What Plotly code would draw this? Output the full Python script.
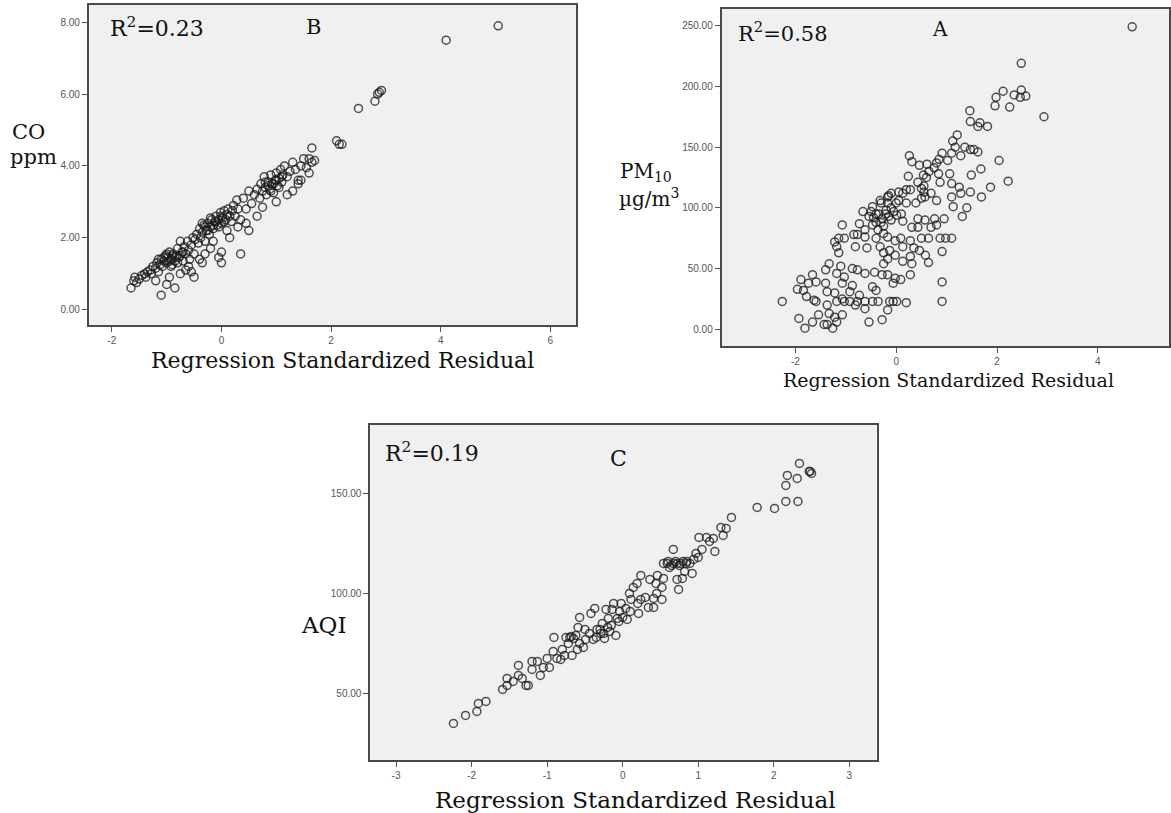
import plotly.graph_objects as go

# ---------------- data ----------------
# Panel B : CO (ppm) vs regression standardized residual
co_resid = [-1.65,-1.60,-1.58,-1.55,-1.50,-1.45,-1.40,-1.38,-1.35,-1.30,-1.28,-1.25,-1.20,-1.18,-1.15,-1.12,-1.10,-1.08,-1.05,-1.02,
            -1.00,-0.98,-0.95,-0.92,-0.90,-0.88,-0.85,-0.82,-0.80,-0.78,-0.75,-0.72,-0.70,-0.68,-0.65,-0.62,-0.60,-0.58,-0.55,-0.52,
            -0.50,-0.48,-0.45,-0.42,-0.40,-0.38,-0.35,-0.32,-0.30,-0.28,-0.25,-0.22,-0.20,-0.18,-0.15,-0.12,-0.10,-0.08,-0.05,-0.02,
            0.00,0.02,0.05,0.08,0.10,0.12,0.15,0.18,0.20,0.22,0.25,0.28,0.30,0.35,0.40,0.45,0.50,0.55,0.60,0.65,
            0.70,0.72,0.75,0.78,0.80,0.82,0.85,0.88,0.90,0.92,0.95,0.98,1.00,1.02,1.05,1.08,1.10,1.12,1.15,1.20,
            1.25,1.30,1.35,1.40,1.45,1.50,1.55,1.60,1.65,1.70,
            -1.05,-0.95,-0.90,-0.85,-0.80,-1.00,-0.92,-0.75,-1.15,-0.70,-0.30,-0.25,-0.15,-0.10,-0.05,0.05,-0.20,0.00,-0.35,0.85,
            0.90,0.95,1.00,0.80,1.05,1.10,
            -1.10,-0.85,-1.20,-1.00,-0.95,-0.75,-0.65,-0.50,-0.55,-0.60,-0.40,-0.35,-0.30,-0.20,-0.15,0.00,-0.05,0.00,0.35,0.50,
            0.45,0.30,0.15,0.10,0.75,1.00,0.65,1.40,1.45,1.60,1.30,1.20,
            1.65,2.10,2.15,2.20,2.50,2.80,2.85,2.88,2.92,4.10,5.05]
co_ppm = [0.60,0.80,0.90,0.75,0.85,0.95,1.00,0.90,1.05,1.10,1.00,1.20,1.15,1.30,1.05,1.25,1.40,1.20,1.35,1.50,
          1.30,1.45,1.60,1.40,1.25,1.55,1.35,1.50,1.70,1.45,1.90,1.60,1.35,1.75,1.55,1.90,1.65,1.40,1.80,2.00,
          1.55,1.95,2.10,1.85,2.25,2.00,2.15,2.35,1.90,2.20,2.40,2.10,2.30,2.50,2.25,2.45,2.60,2.35,2.50,2.70,
          2.40,2.55,2.75,2.50,2.65,2.80,2.60,2.45,2.75,2.90,2.60,3.05,2.80,2.50,3.10,2.80,3.30,2.95,3.20,3.35,
          3.10,3.50,3.30,3.70,3.40,3.20,3.55,3.35,3.75,3.50,3.25,3.60,3.80,3.45,3.65,3.90,3.55,3.75,4.00,3.70,
          3.85,4.10,3.90,3.60,4.00,4.20,3.95,4.20,4.10,4.15,
          1.45,1.35,1.50,1.45,1.30,1.55,1.20,1.50,1.40,1.60,2.30,2.20,2.35,2.45,2.30,2.45,2.55,2.60,2.40,3.45,
          3.30,3.50,3.60,3.55,3.40,3.70,
          0.40,0.60,0.80,0.70,0.90,1.00,1.10,0.90,1.05,1.20,1.40,1.30,1.55,1.70,1.90,1.30,1.45,1.60,1.55,2.20,
          2.40,2.30,2.00,2.20,2.85,3.00,2.60,3.50,3.60,3.80,3.30,3.20,
          4.50,4.70,4.60,4.60,5.60,5.80,6.00,6.05,6.10,7.50,7.90]

# Panel A : PM10 (ug/m3) vs regression standardized residual
pm_resid = [4.68,2.48,2.93,1.98,2.12,1.96,2.25,2.34,2.48,2.46,2.57,1.46,1.47,1.66,1.81,1.62,1.21,1.12,1.17,1.36,
            1.47,1.54,1.62,1.28,1.10,0.26,0.31,0.46,0.61,0.80,0.91,1.02,2.04,2.22,1.68,1.49,0.24,0.43,0.54,0.84,
            1.06,0.87,1.10,1.25,1.47,1.28,1.10,1.69,1.87,1.13,1.40,1.31,0.50,0.57,0.28,0.13,-0.17,-0.32,-0.47,-0.17,
            0.05,0.20,0.39,0.69,0.80,-0.66,-0.54,-0.40,-0.28,-0.21,-0.10,0.01,0.13,0.43,0.57,0.76,0.95,0.69,0.80,0.43,
            0.31,-1.07,-0.73,-0.62,-0.47,-0.36,-0.25,-0.84,-1.03,-1.14,-1.22,-0.77,-0.62,-0.40,-0.17,-0.02,0.09,0.28,0.50,0.64,
            0.87,0.98,1.10,-1.18,-0.81,-0.58,-0.32,-0.13,0.13,0.35,0.46,-1.14,-0.25,-0.02,0.28,0.91,0.58,0.31,0.13,0.64,
            -0.25,-0.17,-1.33,-1.10,-0.87,-0.77,-0.62,-0.43,-1.40,-1.18,-1.03,-1.66,-1.89,-1.74,-1.59,-0.28,-0.17,-0.02,0.09,-0.06,
            0.28,0.91,-1.07,-0.87,-0.47,-0.40,-1.96,-1.84,-1.78,-1.40,-1.37,-1.22,-0.92,-0.73,-1.07,-2.26,-1.63,-1.59,-1.18,-1.03,
            -0.92,-0.77,-0.62,-0.47,-0.36,-0.13,-0.06,0.01,0.20,0.91,-0.81,-0.62,-1.37,-1.33,-0.17,-1.93,-1.81,-1.66,-1.54,-1.43,
            -1.37,-1.26,-1.18,-1.07,-1.22,-0.54,-0.28,
            -0.35,-0.30,-0.45,-0.20,-0.10,-0.25,-0.40,-0.15,-0.05,0.00,-0.50,0.10,-0.15,-0.10,-0.30,0.05,0.20,0.55,0.60,0.50,
            0.65,0.75,0.85,0.55]
pm10 = [249,219,175,191,196,184,183,193,197,191,192,180,171,170,167,167,160,155,150,150,
        148,148,146,143,145,143,138,135,136,137,145,139,139,122,132,127,126,121,127,128,
        128,121,120,117,113,112,109,109,117,101,100,93,116,109,115,112,109,106,101,104,
        106,104,104,112,106,97,93,95,91,95,90,94,89,91,90,91,91,84,86,84,
        84,86,87,82,86,82,79,78,75,75,72,78,76,75,76,73,75,73,75,75,
        75,75,75,68,68,67,68,65,68,67,65,63,63,61,60,64,61,54,56,55,
        54,58,54,52,50,49,46,47,49,46,43,45,41,38,39,45,45,42,41,38,
        45,39,38,36,35,32,33,32,27,38,31,30,31,28,25,23,24,23,23,23,
        23,23,23,23,23,23,23,23,22,23,20,17,20,13,16,9,1,6,12,4,
        4,1,6,12,10,6,8,
        95,88,92,98,100,85,88,93,97,104,97,95,110,112,104,113,115,118,125,108,
        130,133,140,113]

# Panel C : AQI vs regression standardized residual
aqi_resid = [-2.24,-2.08,-1.93,-1.91,-1.81,-1.59,-1.53,-1.53,-1.45,-1.38,-1.38,-1.33,-1.28,-1.25,-1.20,-1.20,-1.13,-1.09,-1.05,-1.00,
             -0.97,-0.92,-0.91,-0.87,-0.82,-0.77,-0.75,-0.72,-0.70,-0.67,-0.65,-0.59,-0.57,-0.57,-0.52,-0.49,-0.44,-0.42,-0.39,-0.37,
             -0.34,-0.29,-0.27,-0.24,-0.22,-0.19,-0.17,-0.14,-0.12,-0.09,-0.07,-0.04,-0.02,0.04,0.06,0.09,0.11,0.14,0.19,0.21,
             0.24,0.24,0.34,0.36,0.41,0.41,0.44,0.46,0.52,0.52,0.54,0.54,0.59,0.62,0.67,0.67,0.72,0.72,0.74,0.77,
             0.79,0.82,0.84,0.89,0.92,0.94,0.97,1.01,1.05,1.11,1.15,1.20,1.22,1.30,1.33,1.37,1.44,1.78,2.01,2.16,
             2.32,2.16,2.18,2.31,2.34,2.48,2.50,2.47,
             -0.68,-0.62,-0.30,-0.25,-0.20,-0.35,-0.15,-0.60,-0.80,-0.50,0.60,0.65,0.70,0.75,0.80,0.85,1.00,0.00,0.10,-0.05,
             0.30,0.45,0.20]
aqi = [35,39,41,45,46,52,54,57.5,56,59,64,57.5,54,54,66,62,66,59,63,67.5,
       63,71,78,67.5,67,69,78,75,78,69,77.5,83,88,75,73,77,80,90,77,92.5,
       82,80,85,77.5,92,87.5,81,92,95,79,87.5,91,95,92.5,87,100,97,103,105,90,
       109,97,93,107,93,97.5,105,109,97,103,107.5,115,115,113,122,115,115,107,102,115,
       107.5,111,115,115,110,117,120,128,122,128,126,127.5,121,133,129,132.5,138,143,142.5,146,
       146,154,159,157.5,165,161,160,161,
       78.5,79,82,80,83,78,84,72,72,82,116,114,116,114,116,116,118,88,91,86,
       98,100,95]

# tick values / labels
co_ticks = [0, 2, 4, 6, 8]
co_ticktext = ["0.00", "2.00", "4.00", "6.00", "8.00"]
b_xticks = [-2, 0, 2, 4, 6]
b_xticktext = ["-2", "0", "2", "4", "6"]
pm_ticks = [0, 50, 100, 150, 200, 250]
pm_ticktext = ["0.00", "50.00", "100.00", "150.00", "200.00", "250.00"]
a_xticks = [-2, 0, 2, 4]
a_xticktext = ["-2", "0", "2", "4"]
aqi_ticks = [50, 100, 150]
aqi_ticktext = ["50.00", "100.00", "150.00"]
c_xticks = [-3, -2, -1, 0, 1, 2, 3]
c_xticktext = ["-3", "-2", "-1", "0", "1", "2", "3"]

# ---------------- figure ----------------
W, H = 1171, 813
marker = dict(symbol="circle-open", size=8, color="rgba(25,25,25,0.75)",
              line=dict(width=1.5, color="rgba(25,25,25,0.75)"))

fig = go.Figure()
fig.add_trace(go.Scatter(x=co_resid, y=co_ppm, mode="markers", marker=marker,
                         xaxis="x", yaxis="y", showlegend=False, hoverinfo="skip"))
fig.add_trace(go.Scatter(x=pm_resid, y=pm10, mode="markers", marker=marker,
                         xaxis="x2", yaxis="y2", showlegend=False, hoverinfo="skip"))
fig.add_trace(go.Scatter(x=aqi_resid, y=aqi, mode="markers", marker=marker,
                         xaxis="x3", yaxis="y3", showlegend=False, hoverinfo="skip"))

def px(x):
    return x / W

def py(y):
    return 1 - y / H

tickfont = dict(family="Liberation Sans Narrow, Liberation Sans, Arial", size=10, color="#555555")
common = dict(showgrid=False, zeroline=False, showline=True, mirror=True,
              linecolor="#4a4a4a", linewidth=2, ticks="outside", ticklen=5,
              tickcolor="#555555", tickwidth=1, tickfont=tickfont, tickmode="array")

fig.update_layout(
    width=W, height=H, autosize=False,
    margin=dict(l=0, r=0, t=0, b=0, pad=0),
    paper_bgcolor="white", plot_bgcolor="#f0f0f0",
    xaxis=dict(domain=[px(89), px(577)], range=[-2.42, 6.47], anchor="y",
               tickvals=b_xticks, ticktext=b_xticktext, **common),
    yaxis=dict(domain=[py(325), py(5)], range=[-0.43, 8.48], anchor="x",
               tickvals=co_ticks, ticktext=co_ticktext, **common),
    xaxis2=dict(domain=[px(723), 1.0], range=[-3.46, 5.41], anchor="y2",
                tickvals=a_xticks, ticktext=a_xticktext, **common),
    yaxis2=dict(domain=[py(346), py(9)], range=[-13.7, 263.7], anchor="x2",
                tickvals=pm_ticks, ticktext=pm_ticktext, **common),
    xaxis3=dict(domain=[px(371), px(878)], range=[-3.34, 3.36], anchor="y3",
                tickvals=c_xticks, ticktext=c_xticktext, **common),
    yaxis3=dict(domain=[py(760), py(425)], range=[16.7, 184.2], anchor="x3",
                tickvals=aqi_ticks, ticktext=aqi_ticktext, **common),
)

serif = "DejaVu Serif, Liberation Serif, serif"

def label(text, x, y, size, xanchor="center"):
    fig.add_annotation(text=text, x=px(x), y=py(y), xref="paper", yref="paper",
                       xanchor=xanchor, yanchor="middle", showarrow=False,
                       font=dict(family=serif, size=size, color="#111111"))

# in-panel labels
label("R<sup>2</sup>=0.23", 157, 27, 22)
label("B", 314, 27, 21)
label("R<sup>2</sup>=0.58", 784, 32, 21)
label("A", 942, 29, 20)
label("R<sup>2</sup>=0.19", 433, 452, 22)
label("C", 620, 458, 22)

# y titles
label("CO", 29, 132, 21)
label("ppm", 34, 157, 21)
label("PM<sub>10</sub>", 647, 172, 20)
label("µg/m<sup>3</sup>", 650, 198, 20)
label("AQI", 325, 625, 23)

# x titles
label("Regression Standardized Residual", 343, 360, 22)
label("Regression Standardized Residual", 950, 380, 19)
label("Regression Standardized Residual", 637, 800, 23)

fig.write_html("out.html")
